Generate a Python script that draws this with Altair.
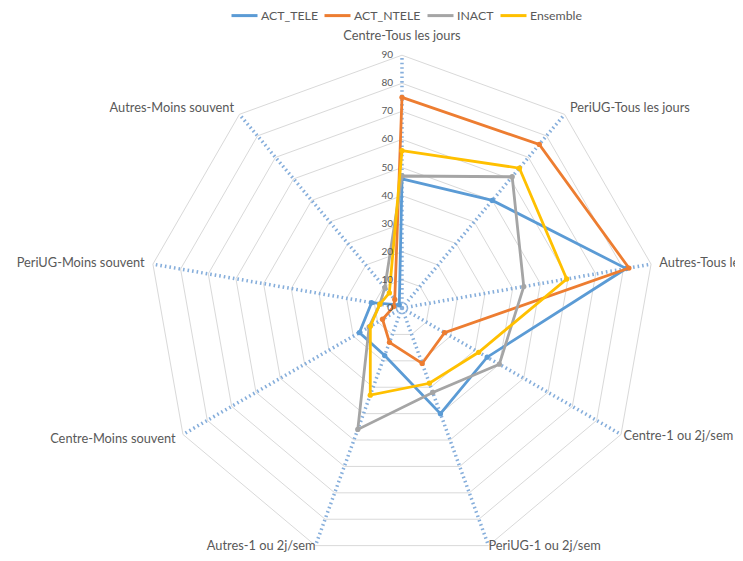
import altair as alt
import pandas as pd

categories = ["Centre-Tous les jours", "PeriUG-Tous les jours", "Autres-Tous les jours",
              "Centre-1 ou 2j/sem", "PeriUG-1 ou 2j/sem", "Autres-1 ou 2j/sem",
              "Centre-Moins souvent", "PeriUG-Moins souvent", "Autres-Moins souvent"]
series_names = ["ACT_TELE", "ACT_NTELE", "INACT", "Ensemble"]
act_tele = [46, 50, 81, 35, 40, 18, 17.5, 11, 1.5]
act_ntele = [75, 76, 82, 17.5, 21, 13, 8, 3, 4]
inact = [47, 61, 44, 40, 32, 46, 13.5, 8, 9.5]
ensemble = [56, 65, 59.5, 31.5, 28.5, 33, 13, 8, 7]
tick_values = [0, 10, 20, 30, 40, 50, 60, 70, 80, 90]
colors = ["#5B9BD5", "#ED7D31", "#A5A5A5", "#FFC000"]

all_values = [act_tele, act_ntele, inact, ensemble]
rows = []
for name, vals in zip(series_names, all_values):
    for i, (cat, v) in enumerate(zip(categories, vals)):
        rows.append({"series": name, "idx": i, "cat": cat, "value": v})
series_df = pd.DataFrame(rows)
cat_df = pd.DataFrame({"idx": list(range(len(categories))), "cat": categories})
grid_df = pd.DataFrame([{"level": lv, "idx": i} for lv in tick_values[1:] for i in range(len(categories))])
tick_df = pd.DataFrame({"v": tick_values})

N = len(categories)
RMAX = tick_values[-1]
ang = f"datum.idx * 2 * PI / {N}"

xs = alt.Scale(domain=[-140.2, 118.5], nice=False, zero=False)
ys = alt.Scale(domain=[-87.2, 106.8], nice=False, zero=False)
col_scale = alt.Scale(domain=series_names, range=colors)

FONT = "Lato"
TXT = "#595959"

grid = alt.Chart(grid_df).transform_calculate(
    x=f"datum.level * sin({ang})", y=f"datum.level * cos({ang})"
).mark_line(interpolate="linear-closed", color="#D9D9D9", strokeWidth=1).encode(
    x=alt.X("x:Q", scale=xs, axis=None),
    y=alt.Y("y:Q", scale=ys, axis=None),
    detail="level:N",
    order="idx:Q",
)

spokes = alt.Chart(cat_df).transform_calculate(
    x0="0", y0="0",
    x=f"{RMAX} * sin({ang})", y=f"{RMAX} * cos({ang})"
).mark_rule(color="#86AEDB", strokeWidth=3.5, strokeDash=[1.6, 3]).encode(
    x=alt.X("x0:Q", scale=xs, axis=None),
    y=alt.Y("y0:Q", scale=ys, axis=None),
    x2="x:Q", y2="y:Q",
)

ticks = alt.Chart(tick_df).transform_calculate(x="0", y="datum.v").mark_text(
    align="right", baseline="middle", dx=-9, font=FONT, fontSize=10, color=TXT
).encode(
    x=alt.X("x:Q", scale=xs, axis=None),
    y=alt.Y("y:Q", scale=ys, axis=None),
    text="v:Q",
)

def labels(filt, align):
    return alt.Chart(cat_df).transform_calculate(
        s=f"sin({ang})", c=f"cos({ang})"
    ).transform_calculate(
        rl="datum.c > 0.99 ? 97 : (datum.c < -0.9 ? 90 : ((datum.s > 0 && datum.c < -0.4) ? 91 : 93))"
    ).transform_calculate(
        x="datum.rl * datum.s", y="datum.rl * datum.c"
    ).transform_filter(filt).mark_text(
        align=align, baseline="middle", font=FONT, fontSize=12.8, color=TXT
    ).encode(
        x=alt.X("x:Q", scale=xs, axis=None),
        y=alt.Y("y:Q", scale=ys, axis=None),
        text="cat:N",
    )

lab_r = labels("datum.s > 0.01", "left")
lab_l = labels("datum.s < -0.01", "right")
lab_c = labels("abs(datum.s) <= 0.01", "center")

layers = [grid, spokes]
for k, name in enumerate(series_names):
    base = alt.Chart(series_df).transform_filter(f"datum.series == '{name}'").transform_calculate(
        x=f"datum.value * sin({ang})", y=f"datum.value * cos({ang})"
    )
    line = base.mark_line(interpolate="linear-closed", strokeWidth=2.8).encode(
        x=alt.X("x:Q", scale=xs, axis=None),
        y=alt.Y("y:Q", scale=ys, axis=None),
        order="idx:Q",
        color=alt.Color("series:N", scale=col_scale, title=None,
                        legend=alt.Legend(orient="none", legendX=222, legendY=-7,
                                          direction="horizontal", symbolType="stroke",
                                          symbolSize=676, symbolStrokeWidth=3,
                                          labelFont=FONT, labelFontSize=12.3, labelColor=TXT,
                                          labelOffset=2, columnPadding=0)),
    )
    pts = base.mark_point(filled=True, size=28, opacity=1).encode(
        x=alt.X("x:Q", scale=xs, axis=None),
        y=alt.Y("y:Q", scale=ys, axis=None),
        color=alt.Color("series:N", scale=col_scale, legend=None),
    )
    layers += [line, pts]

layers += [ticks, lab_r, lab_l, lab_c]

chart = alt.layer(*layers).properties(
    width=727, height=545, padding=0, autosize="none", background="white"
).configure_view(stroke=None)

chart.save("out.html", embed_options={"renderer": "svg", "actions": False})
